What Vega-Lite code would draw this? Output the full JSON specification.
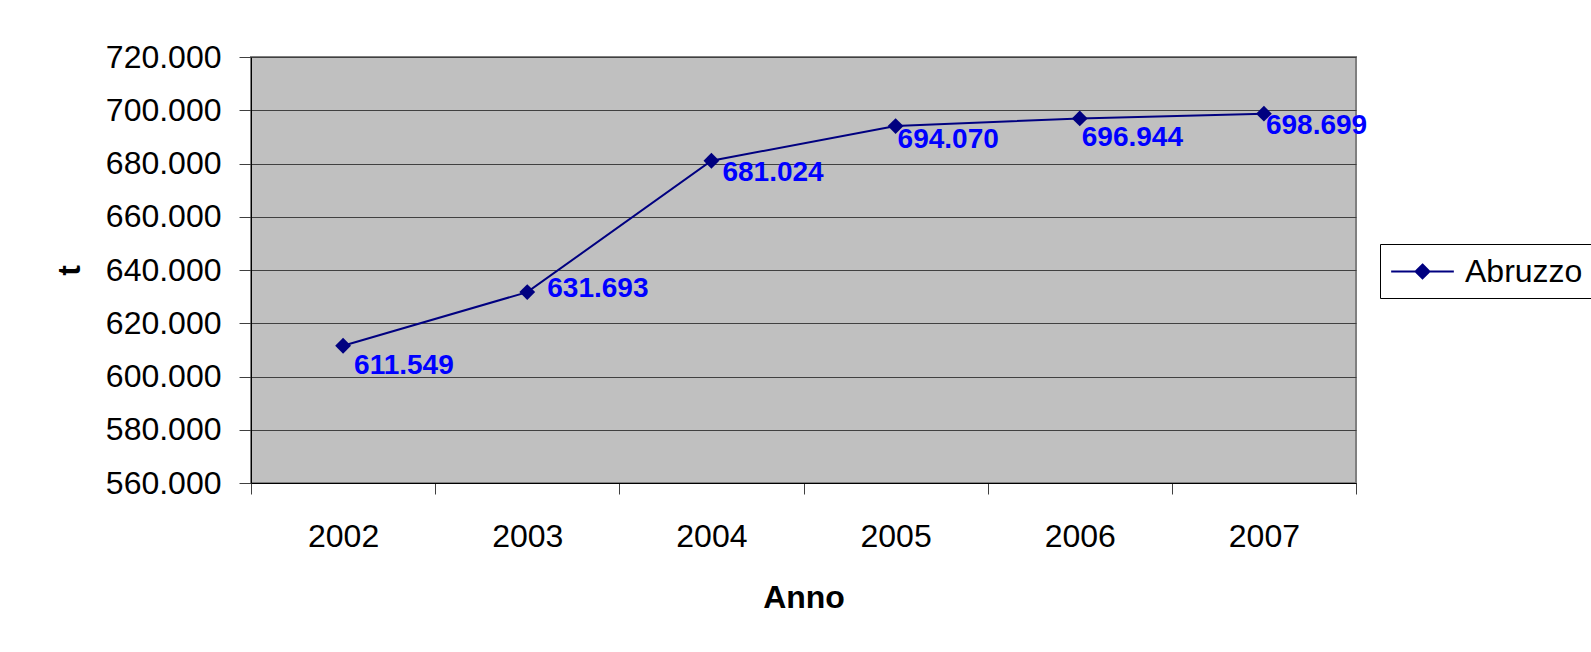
{
  "$schema": "https://vega.github.io/schema/vega-lite/v6.json",
  "width": 1105,
  "height": 426,
  "autosize": {"type": "none"},
  "padding": {"left": 251, "top": 57, "right": 235, "bottom": 169},
  "background": "white",
  "data": {
    "values": [
      {"anno": "2002", "t": 611549, "serie": "Abruzzo"},
      {"anno": "2003", "t": 631693, "serie": "Abruzzo"},
      {"anno": "2004", "t": 681024, "serie": "Abruzzo"},
      {"anno": "2005", "t": 694070, "serie": "Abruzzo"},
      {"anno": "2006", "t": 696944, "serie": "Abruzzo"},
      {"anno": "2007", "t": 698699, "serie": "Abruzzo"}
    ]
  },
  "encoding": {
    "x": {
      "field": "anno",
      "type": "ordinal",
      "scale": {"type": "band", "paddingInner": 0, "paddingOuter": 0},
      "axis": {
        "title": "Anno",
        "tickBand": "extent",
        "labelAngle": 0,
        "tickSize": 11,
        "labelPadding": 52,
        "labelBaseline": "alphabetic",
        "titleX": 552.5,
        "titleY": 124,
        "titleBaseline": "alphabetic",
        "titleAlign": "center",
        "grid": false
      }
    },
    "y": {
      "field": "t",
      "type": "quantitative",
      "scale": {"domain": [560000, 720000], "nice": false, "zero": false},
      "axis": {
        "title": "t",
        "tickCount": 8,
        "format": ",.0f",
        "tickSize": 12,
        "labelPadding": 18,
        "labelBaseline": "middle",
        "grid": true,
        "gridColor": "#404040",
        "gridWidth": 1,
        "gridOpacity": 1,
        "titleX": -172,
        "titleY": 213,
        "titleAngle": 270,
        "titleBaseline": "alphabetic",
        "titleAlign": "center"
      }
    }
  },
  "layer": [
    {
      "mark": {"type": "line", "color": "#000080", "strokeWidth": 2}
    },
    {
      "mark": {"type": "point", "shape": "diamond", "filled": true, "size": 250, "opacity": 1},
      "encoding": {
        "color": {
          "field": "serie",
          "type": "nominal",
          "scale": {"range": ["#000080"]},
          "legend": {
            "title": null,
            "orient": "none",
            "legendX": 1129,
            "legendY": 187,
            "strokeColor": "black",
            "fillColor": "white",
            "padding": 10,
            "labelFontSize": 32,
            "labelFont": "Liberation Sans",
            "labelColor": "black",
            "symbolType": "M-1.9,0L1.9,0M0,-0.42L0.42,0L0,0.42L-0.42,0Z",
            "symbolSize": 1089,
            "symbolOffset": 15,
            "labelOffset": 25,
            "symbolFillColor": "#000080",
            "symbolStrokeColor": "#000080",
            "symbolStrokeWidth": 2,
            "symbolOpacity": 1
          }
        }
      }
    },
    {
      "transform": [{"filter": "datum.anno == '2002'"}],
      "mark": {"type": "text", "align": "left", "baseline": "middle", "dx": 11, "dy": 20, "font": "Liberation Sans", "fontSize": 28, "fontWeight": "bold", "color": "#0000FF"},
      "encoding": {"text": {"field": "t", "type": "quantitative", "format": ",.0f"}}
    },
    {
      "transform": [{"filter": "datum.anno == '2003'"}],
      "mark": {"type": "text", "align": "left", "baseline": "middle", "dx": 20, "dy": -3, "font": "Liberation Sans", "fontSize": 28, "fontWeight": "bold", "color": "#0000FF"},
      "encoding": {"text": {"field": "t", "type": "quantitative", "format": ",.0f"}}
    },
    {
      "transform": [{"filter": "datum.anno == '2004'"}],
      "mark": {"type": "text", "align": "left", "baseline": "middle", "dx": 11, "dy": 12, "font": "Liberation Sans", "fontSize": 28, "fontWeight": "bold", "color": "#0000FF"},
      "encoding": {"text": {"field": "t", "type": "quantitative", "format": ",.0f"}}
    },
    {
      "transform": [{"filter": "datum.anno == '2005'"}],
      "mark": {"type": "text", "align": "left", "baseline": "middle", "dx": 2, "dy": 14, "font": "Liberation Sans", "fontSize": 28, "fontWeight": "bold", "color": "#0000FF"},
      "encoding": {"text": {"field": "t", "type": "quantitative", "format": ",.0f"}}
    },
    {
      "transform": [{"filter": "datum.anno == '2006'"}],
      "mark": {"type": "text", "align": "left", "baseline": "middle", "dx": 2, "dy": 20, "font": "Liberation Sans", "fontSize": 28, "fontWeight": "bold", "color": "#0000FF"},
      "encoding": {"text": {"field": "t", "type": "quantitative", "format": ",.0f"}}
    },
    {
      "transform": [{"filter": "datum.anno == '2007'"}],
      "mark": {"type": "text", "align": "left", "baseline": "middle", "dx": 2, "dy": 12, "font": "Liberation Sans", "fontSize": 28, "fontWeight": "bold", "color": "#0000FF"},
      "encoding": {"text": {"field": "t", "type": "quantitative", "format": ",.0f"}}
    }
  ],
  "config": {
    "font": "Liberation Sans",
    "locale": {
      "number": {"decimal": ",", "thousands": ".", "grouping": [3], "currency": ["€", ""]}
    },
    "view": {"fill": "#C0C0C0", "stroke": "#808080", "strokeWidth": 2},
    "axis": {
      "labelFont": "Liberation Sans",
      "labelFontSize": 32,
      "labelColor": "black",
      "titleFont": "Liberation Sans",
      "titleFontSize": 32,
      "titleFontWeight": "bold",
      "titleColor": "black",
      "domainColor": "black",
      "domainWidth": 1,
      "tickColor": "#404040",
      "tickWidth": 1
    }
  }
}
